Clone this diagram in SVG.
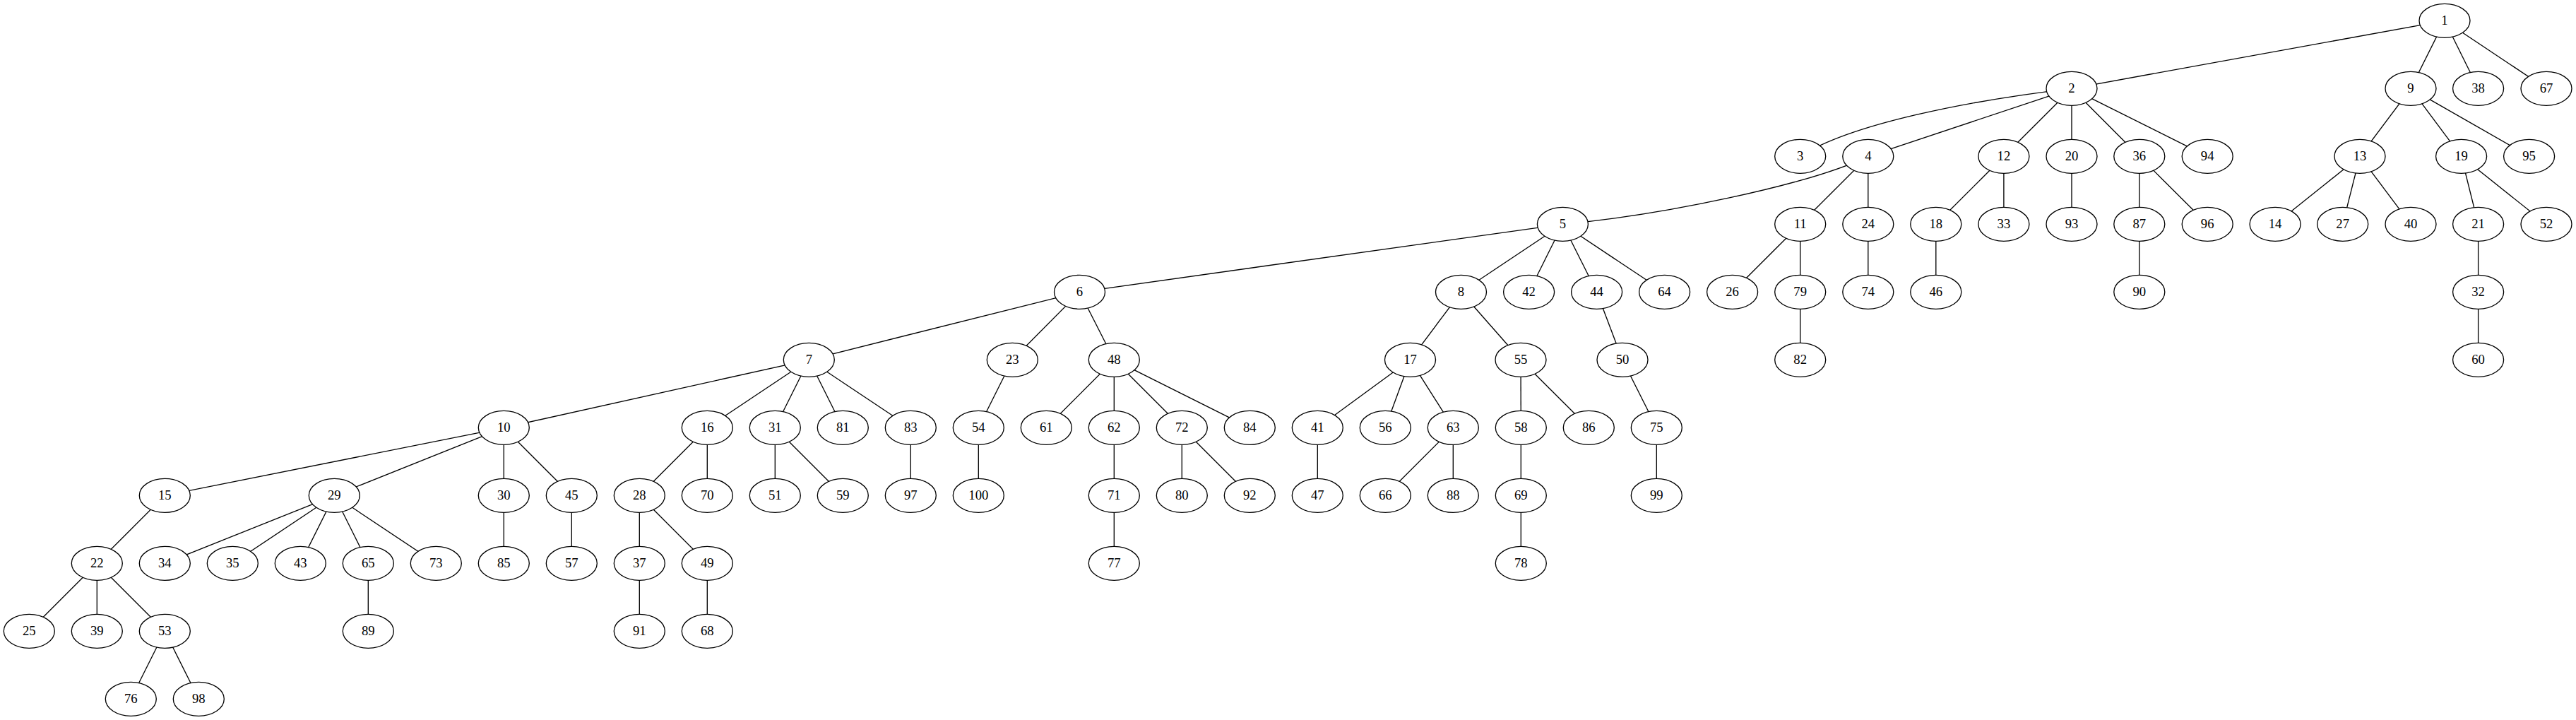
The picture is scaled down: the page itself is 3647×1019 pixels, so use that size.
<svg xmlns="http://www.w3.org/2000/svg" width="3647" height="1019" viewBox="0 0 3647 1019">
<style>
.e path{fill:none;stroke:#000;stroke-width:1.33}
.n ellipse{fill:#fff;stroke:#000;stroke-width:1.33}
.n text{font-family:"Liberation Serif","Times New Roman",serif;font-size:18.67px;text-anchor:middle;fill:#000}
</style>
<rect width="3647" height="1019" fill="#fff"/>
<g id="edges" class="e">
<path d="M3461,29.3L2933,125.3"/>
<path d="M3461,29.3L3413,125.3"/>
<path d="M3461,29.3L3508.6,125.3"/>
<path d="M3461,29.3L3605,125.3"/>
<path d="M2933,125.3C2790,142 2620,175 2548.7,221.3"/>
<path d="M2933,125.3L2644.8,221.3"/>
<path d="M2933,125.3L2836.9,221.3"/>
<path d="M2933,125.3L2933,221.3"/>
<path d="M2933,125.3L3028.8,221.3"/>
<path d="M2933,125.3L3125.2,221.3"/>
<path d="M3413,125.3L3341,221.3"/>
<path d="M3413,125.3L3484.6,221.3"/>
<path d="M3413,125.3L3580.6,221.3"/>
<path d="M2644.8,221.3C2560,262 2350,305 2212.4,317.3"/>
<path d="M2644.8,221.3L2548.7,317.3"/>
<path d="M2644.8,221.3L2644.8,317.3"/>
<path d="M2836.9,221.3L2740.8,317.3"/>
<path d="M2836.9,221.3L2836.9,317.3"/>
<path d="M2933,221.3L2933,317.3"/>
<path d="M3028.8,221.3L3028.8,317.3"/>
<path d="M3028.8,221.3L3125.2,317.3"/>
<path d="M3341,221.3L3221.1,317.3"/>
<path d="M3341,221.3L3316.7,317.3"/>
<path d="M3341,221.3L3413,317.3"/>
<path d="M3484.6,221.3L3508.6,317.3"/>
<path d="M3484.6,221.3L3605,317.3"/>
<path d="M2212.4,317.3L1528.5,413.3"/>
<path d="M2212.4,317.3L2068.5,413.3"/>
<path d="M2212.4,317.3L2164.6,413.3"/>
<path d="M2212.4,317.3L2260.6,413.3"/>
<path d="M2212.4,317.3L2356.6,413.3"/>
<path d="M2548.7,317.3L2452.6,413.3"/>
<path d="M2548.7,317.3L2548.7,413.3"/>
<path d="M2644.8,317.3L2644.8,413.3"/>
<path d="M2740.8,317.3L2740.8,413.3"/>
<path d="M3028.8,317.3L3028.8,413.3"/>
<path d="M3508.6,317.3L3508.6,413.3"/>
<path d="M1528.5,413.3L1145.3,509.3"/>
<path d="M1528.5,413.3L1433.3,509.3"/>
<path d="M1528.5,413.3L1577.3,509.3"/>
<path d="M2068.5,413.3L1996.5,509.3"/>
<path d="M2068.5,413.3L2153,509.3"/>
<path d="M2260.6,413.3L2297,509.3"/>
<path d="M2548.7,413.3L2548.7,509.3"/>
<path d="M3508.6,413.3L3508.6,509.3"/>
<path d="M1145.3,509.3L713.3,605.3"/>
<path d="M1145.3,509.3L1001.3,605.3"/>
<path d="M1145.3,509.3L1097.3,605.3"/>
<path d="M1145.3,509.3L1193.3,605.3"/>
<path d="M1145.3,509.3L1289.3,605.3"/>
<path d="M1433.3,509.3L1385.3,605.3"/>
<path d="M1577.3,509.3L1481.3,605.3"/>
<path d="M1577.3,509.3L1577.3,605.3"/>
<path d="M1577.3,509.3L1673.3,605.3"/>
<path d="M1577.3,509.3L1769.3,605.3"/>
<path d="M1996.5,509.3L1865.3,605.3"/>
<path d="M1996.5,509.3L1961.3,605.3"/>
<path d="M1996.5,509.3L2057.3,605.3"/>
<path d="M2153,509.3L2153.3,605.3"/>
<path d="M2153,509.3L2249.3,605.3"/>
<path d="M2297,509.3L2345.3,605.3"/>
<path d="M713.3,605.3L233.3,701.3"/>
<path d="M713.3,605.3L473.3,701.3"/>
<path d="M713.3,605.3L713.3,701.3"/>
<path d="M713.3,605.3L809.3,701.3"/>
<path d="M1001.3,605.3L905.3,701.3"/>
<path d="M1001.3,605.3L1001.3,701.3"/>
<path d="M1097.3,605.3L1097.3,701.3"/>
<path d="M1097.3,605.3L1193.3,701.3"/>
<path d="M1289.3,605.3L1289.3,701.3"/>
<path d="M1385.3,605.3L1385.3,701.3"/>
<path d="M1577.3,605.3L1577.3,701.3"/>
<path d="M1673.3,605.3L1673.3,701.3"/>
<path d="M1673.3,605.3L1769.3,701.3"/>
<path d="M1865.3,605.3L1865.3,701.3"/>
<path d="M2057.3,605.3L1961.3,701.3"/>
<path d="M2057.3,605.3L2057.3,701.3"/>
<path d="M2153.3,605.3L2153.3,701.3"/>
<path d="M2345.3,605.3L2345.3,701.3"/>
<path d="M233.3,701.3L137.3,797.3"/>
<path d="M473.3,701.3L233.3,797.3"/>
<path d="M473.3,701.3L329.3,797.3"/>
<path d="M473.3,701.3L425.3,797.3"/>
<path d="M473.3,701.3L521.3,797.3"/>
<path d="M473.3,701.3L617.3,797.3"/>
<path d="M713.3,701.3L713.3,797.3"/>
<path d="M809.3,701.3L809.3,797.3"/>
<path d="M905.3,701.3L905.3,797.3"/>
<path d="M905.3,701.3L1001.3,797.3"/>
<path d="M1577.3,701.3L1577.3,797.3"/>
<path d="M2153.3,701.3L2153.3,797.3"/>
<path d="M137.3,797.3L41.3,893.3"/>
<path d="M137.3,797.3L137.3,893.3"/>
<path d="M137.3,797.3L233.3,893.3"/>
<path d="M521.3,797.3L521.3,893.3"/>
<path d="M905.3,797.3L905.3,893.3"/>
<path d="M1001.3,797.3L1001.3,893.3"/>
<path d="M233.3,893.3L185.3,989.3"/>
<path d="M233.3,893.3L281.3,989.3"/>
</g>
<g id="node1" class="n"><ellipse cx="3461" cy="29.3" rx="36" ry="24"/><text x="3461" y="35.3">1</text></g>
<g id="node2" class="n"><ellipse cx="2933" cy="125.3" rx="36" ry="24"/><text x="2933" y="131.3">2</text></g>
<g id="node9" class="n"><ellipse cx="3413" cy="125.3" rx="36" ry="24"/><text x="3413" y="131.3">9</text></g>
<g id="node38" class="n"><ellipse cx="3508.6" cy="125.3" rx="36" ry="24"/><text x="3508.6" y="131.3">38</text></g>
<g id="node67" class="n"><ellipse cx="3605" cy="125.3" rx="36" ry="24"/><text x="3605" y="131.3">67</text></g>
<g id="node3" class="n"><ellipse cx="2548.7" cy="221.3" rx="36" ry="24"/><text x="2548.7" y="227.3">3</text></g>
<g id="node4" class="n"><ellipse cx="2644.8" cy="221.3" rx="36" ry="24"/><text x="2644.8" y="227.3">4</text></g>
<g id="node12" class="n"><ellipse cx="2836.9" cy="221.3" rx="36" ry="24"/><text x="2836.9" y="227.3">12</text></g>
<g id="node20" class="n"><ellipse cx="2933" cy="221.3" rx="36" ry="24"/><text x="2933" y="227.3">20</text></g>
<g id="node36" class="n"><ellipse cx="3028.8" cy="221.3" rx="36" ry="24"/><text x="3028.8" y="227.3">36</text></g>
<g id="node94" class="n"><ellipse cx="3125.2" cy="221.3" rx="36" ry="24"/><text x="3125.2" y="227.3">94</text></g>
<g id="node13" class="n"><ellipse cx="3341" cy="221.3" rx="36" ry="24"/><text x="3341" y="227.3">13</text></g>
<g id="node19" class="n"><ellipse cx="3484.6" cy="221.3" rx="36" ry="24"/><text x="3484.6" y="227.3">19</text></g>
<g id="node95" class="n"><ellipse cx="3580.6" cy="221.3" rx="36" ry="24"/><text x="3580.6" y="227.3">95</text></g>
<g id="node5" class="n"><ellipse cx="2212.4" cy="317.3" rx="36" ry="24"/><text x="2212.4" y="323.3">5</text></g>
<g id="node11" class="n"><ellipse cx="2548.7" cy="317.3" rx="36" ry="24"/><text x="2548.7" y="323.3">11</text></g>
<g id="node24" class="n"><ellipse cx="2644.8" cy="317.3" rx="36" ry="24"/><text x="2644.8" y="323.3">24</text></g>
<g id="node18" class="n"><ellipse cx="2740.8" cy="317.3" rx="36" ry="24"/><text x="2740.8" y="323.3">18</text></g>
<g id="node33" class="n"><ellipse cx="2836.9" cy="317.3" rx="36" ry="24"/><text x="2836.9" y="323.3">33</text></g>
<g id="node93" class="n"><ellipse cx="2933" cy="317.3" rx="36" ry="24"/><text x="2933" y="323.3">93</text></g>
<g id="node87" class="n"><ellipse cx="3028.8" cy="317.3" rx="36" ry="24"/><text x="3028.8" y="323.3">87</text></g>
<g id="node96" class="n"><ellipse cx="3125.2" cy="317.3" rx="36" ry="24"/><text x="3125.2" y="323.3">96</text></g>
<g id="node14" class="n"><ellipse cx="3221.1" cy="317.3" rx="36" ry="24"/><text x="3221.1" y="323.3">14</text></g>
<g id="node27" class="n"><ellipse cx="3316.7" cy="317.3" rx="36" ry="24"/><text x="3316.7" y="323.3">27</text></g>
<g id="node40" class="n"><ellipse cx="3413" cy="317.3" rx="36" ry="24"/><text x="3413" y="323.3">40</text></g>
<g id="node21" class="n"><ellipse cx="3508.6" cy="317.3" rx="36" ry="24"/><text x="3508.6" y="323.3">21</text></g>
<g id="node52" class="n"><ellipse cx="3605" cy="317.3" rx="36" ry="24"/><text x="3605" y="323.3">52</text></g>
<g id="node6" class="n"><ellipse cx="1528.5" cy="413.3" rx="36" ry="24"/><text x="1528.5" y="419.3">6</text></g>
<g id="node8" class="n"><ellipse cx="2068.5" cy="413.3" rx="36" ry="24"/><text x="2068.5" y="419.3">8</text></g>
<g id="node42" class="n"><ellipse cx="2164.6" cy="413.3" rx="36" ry="24"/><text x="2164.6" y="419.3">42</text></g>
<g id="node44" class="n"><ellipse cx="2260.6" cy="413.3" rx="36" ry="24"/><text x="2260.6" y="419.3">44</text></g>
<g id="node64" class="n"><ellipse cx="2356.6" cy="413.3" rx="36" ry="24"/><text x="2356.6" y="419.3">64</text></g>
<g id="node26" class="n"><ellipse cx="2452.6" cy="413.3" rx="36" ry="24"/><text x="2452.6" y="419.3">26</text></g>
<g id="node79" class="n"><ellipse cx="2548.7" cy="413.3" rx="36" ry="24"/><text x="2548.7" y="419.3">79</text></g>
<g id="node74" class="n"><ellipse cx="2644.8" cy="413.3" rx="36" ry="24"/><text x="2644.8" y="419.3">74</text></g>
<g id="node46" class="n"><ellipse cx="2740.8" cy="413.3" rx="36" ry="24"/><text x="2740.8" y="419.3">46</text></g>
<g id="node90" class="n"><ellipse cx="3028.8" cy="413.3" rx="36" ry="24"/><text x="3028.8" y="419.3">90</text></g>
<g id="node32" class="n"><ellipse cx="3508.6" cy="413.3" rx="36" ry="24"/><text x="3508.6" y="419.3">32</text></g>
<g id="node7" class="n"><ellipse cx="1145.3" cy="509.3" rx="36" ry="24"/><text x="1145.3" y="515.3">7</text></g>
<g id="node23" class="n"><ellipse cx="1433.3" cy="509.3" rx="36" ry="24"/><text x="1433.3" y="515.3">23</text></g>
<g id="node48" class="n"><ellipse cx="1577.3" cy="509.3" rx="36" ry="24"/><text x="1577.3" y="515.3">48</text></g>
<g id="node17" class="n"><ellipse cx="1996.5" cy="509.3" rx="36" ry="24"/><text x="1996.5" y="515.3">17</text></g>
<g id="node55" class="n"><ellipse cx="2153" cy="509.3" rx="36" ry="24"/><text x="2153" y="515.3">55</text></g>
<g id="node50" class="n"><ellipse cx="2297" cy="509.3" rx="36" ry="24"/><text x="2297" y="515.3">50</text></g>
<g id="node82" class="n"><ellipse cx="2548.7" cy="509.3" rx="36" ry="24"/><text x="2548.7" y="515.3">82</text></g>
<g id="node60" class="n"><ellipse cx="3508.6" cy="509.3" rx="36" ry="24"/><text x="3508.6" y="515.3">60</text></g>
<g id="node10" class="n"><ellipse cx="713.3" cy="605.3" rx="36" ry="24"/><text x="713.3" y="611.3">10</text></g>
<g id="node16" class="n"><ellipse cx="1001.3" cy="605.3" rx="36" ry="24"/><text x="1001.3" y="611.3">16</text></g>
<g id="node31" class="n"><ellipse cx="1097.3" cy="605.3" rx="36" ry="24"/><text x="1097.3" y="611.3">31</text></g>
<g id="node81" class="n"><ellipse cx="1193.3" cy="605.3" rx="36" ry="24"/><text x="1193.3" y="611.3">81</text></g>
<g id="node83" class="n"><ellipse cx="1289.3" cy="605.3" rx="36" ry="24"/><text x="1289.3" y="611.3">83</text></g>
<g id="node54" class="n"><ellipse cx="1385.3" cy="605.3" rx="36" ry="24"/><text x="1385.3" y="611.3">54</text></g>
<g id="node61" class="n"><ellipse cx="1481.3" cy="605.3" rx="36" ry="24"/><text x="1481.3" y="611.3">61</text></g>
<g id="node62" class="n"><ellipse cx="1577.3" cy="605.3" rx="36" ry="24"/><text x="1577.3" y="611.3">62</text></g>
<g id="node72" class="n"><ellipse cx="1673.3" cy="605.3" rx="36" ry="24"/><text x="1673.3" y="611.3">72</text></g>
<g id="node84" class="n"><ellipse cx="1769.3" cy="605.3" rx="36" ry="24"/><text x="1769.3" y="611.3">84</text></g>
<g id="node41" class="n"><ellipse cx="1865.3" cy="605.3" rx="36" ry="24"/><text x="1865.3" y="611.3">41</text></g>
<g id="node56" class="n"><ellipse cx="1961.3" cy="605.3" rx="36" ry="24"/><text x="1961.3" y="611.3">56</text></g>
<g id="node63" class="n"><ellipse cx="2057.3" cy="605.3" rx="36" ry="24"/><text x="2057.3" y="611.3">63</text></g>
<g id="node58" class="n"><ellipse cx="2153.3" cy="605.3" rx="36" ry="24"/><text x="2153.3" y="611.3">58</text></g>
<g id="node86" class="n"><ellipse cx="2249.3" cy="605.3" rx="36" ry="24"/><text x="2249.3" y="611.3">86</text></g>
<g id="node75" class="n"><ellipse cx="2345.3" cy="605.3" rx="36" ry="24"/><text x="2345.3" y="611.3">75</text></g>
<g id="node15" class="n"><ellipse cx="233.3" cy="701.3" rx="36" ry="24"/><text x="233.3" y="707.3">15</text></g>
<g id="node29" class="n"><ellipse cx="473.3" cy="701.3" rx="36" ry="24"/><text x="473.3" y="707.3">29</text></g>
<g id="node30" class="n"><ellipse cx="713.3" cy="701.3" rx="36" ry="24"/><text x="713.3" y="707.3">30</text></g>
<g id="node45" class="n"><ellipse cx="809.3" cy="701.3" rx="36" ry="24"/><text x="809.3" y="707.3">45</text></g>
<g id="node28" class="n"><ellipse cx="905.3" cy="701.3" rx="36" ry="24"/><text x="905.3" y="707.3">28</text></g>
<g id="node70" class="n"><ellipse cx="1001.3" cy="701.3" rx="36" ry="24"/><text x="1001.3" y="707.3">70</text></g>
<g id="node51" class="n"><ellipse cx="1097.3" cy="701.3" rx="36" ry="24"/><text x="1097.3" y="707.3">51</text></g>
<g id="node59" class="n"><ellipse cx="1193.3" cy="701.3" rx="36" ry="24"/><text x="1193.3" y="707.3">59</text></g>
<g id="node97" class="n"><ellipse cx="1289.3" cy="701.3" rx="36" ry="24"/><text x="1289.3" y="707.3">97</text></g>
<g id="node100" class="n"><ellipse cx="1385.3" cy="701.3" rx="36" ry="24"/><text x="1385.3" y="707.3">100</text></g>
<g id="node71" class="n"><ellipse cx="1577.3" cy="701.3" rx="36" ry="24"/><text x="1577.3" y="707.3">71</text></g>
<g id="node80" class="n"><ellipse cx="1673.3" cy="701.3" rx="36" ry="24"/><text x="1673.3" y="707.3">80</text></g>
<g id="node92" class="n"><ellipse cx="1769.3" cy="701.3" rx="36" ry="24"/><text x="1769.3" y="707.3">92</text></g>
<g id="node47" class="n"><ellipse cx="1865.3" cy="701.3" rx="36" ry="24"/><text x="1865.3" y="707.3">47</text></g>
<g id="node66" class="n"><ellipse cx="1961.3" cy="701.3" rx="36" ry="24"/><text x="1961.3" y="707.3">66</text></g>
<g id="node88" class="n"><ellipse cx="2057.3" cy="701.3" rx="36" ry="24"/><text x="2057.3" y="707.3">88</text></g>
<g id="node69" class="n"><ellipse cx="2153.3" cy="701.3" rx="36" ry="24"/><text x="2153.3" y="707.3">69</text></g>
<g id="node99" class="n"><ellipse cx="2345.3" cy="701.3" rx="36" ry="24"/><text x="2345.3" y="707.3">99</text></g>
<g id="node22" class="n"><ellipse cx="137.3" cy="797.3" rx="36" ry="24"/><text x="137.3" y="803.3">22</text></g>
<g id="node34" class="n"><ellipse cx="233.3" cy="797.3" rx="36" ry="24"/><text x="233.3" y="803.3">34</text></g>
<g id="node35" class="n"><ellipse cx="329.3" cy="797.3" rx="36" ry="24"/><text x="329.3" y="803.3">35</text></g>
<g id="node43" class="n"><ellipse cx="425.3" cy="797.3" rx="36" ry="24"/><text x="425.3" y="803.3">43</text></g>
<g id="node65" class="n"><ellipse cx="521.3" cy="797.3" rx="36" ry="24"/><text x="521.3" y="803.3">65</text></g>
<g id="node73" class="n"><ellipse cx="617.3" cy="797.3" rx="36" ry="24"/><text x="617.3" y="803.3">73</text></g>
<g id="node85" class="n"><ellipse cx="713.3" cy="797.3" rx="36" ry="24"/><text x="713.3" y="803.3">85</text></g>
<g id="node57" class="n"><ellipse cx="809.3" cy="797.3" rx="36" ry="24"/><text x="809.3" y="803.3">57</text></g>
<g id="node37" class="n"><ellipse cx="905.3" cy="797.3" rx="36" ry="24"/><text x="905.3" y="803.3">37</text></g>
<g id="node49" class="n"><ellipse cx="1001.3" cy="797.3" rx="36" ry="24"/><text x="1001.3" y="803.3">49</text></g>
<g id="node77" class="n"><ellipse cx="1577.3" cy="797.3" rx="36" ry="24"/><text x="1577.3" y="803.3">77</text></g>
<g id="node78" class="n"><ellipse cx="2153.3" cy="797.3" rx="36" ry="24"/><text x="2153.3" y="803.3">78</text></g>
<g id="node25" class="n"><ellipse cx="41.3" cy="893.3" rx="36" ry="24"/><text x="41.3" y="899.3">25</text></g>
<g id="node39" class="n"><ellipse cx="137.3" cy="893.3" rx="36" ry="24"/><text x="137.3" y="899.3">39</text></g>
<g id="node53" class="n"><ellipse cx="233.3" cy="893.3" rx="36" ry="24"/><text x="233.3" y="899.3">53</text></g>
<g id="node89" class="n"><ellipse cx="521.3" cy="893.3" rx="36" ry="24"/><text x="521.3" y="899.3">89</text></g>
<g id="node91" class="n"><ellipse cx="905.3" cy="893.3" rx="36" ry="24"/><text x="905.3" y="899.3">91</text></g>
<g id="node68" class="n"><ellipse cx="1001.3" cy="893.3" rx="36" ry="24"/><text x="1001.3" y="899.3">68</text></g>
<g id="node76" class="n"><ellipse cx="185.3" cy="989.3" rx="36" ry="24"/><text x="185.3" y="995.3">76</text></g>
<g id="node98" class="n"><ellipse cx="281.3" cy="989.3" rx="36" ry="24"/><text x="281.3" y="995.3">98</text></g>
</svg>
